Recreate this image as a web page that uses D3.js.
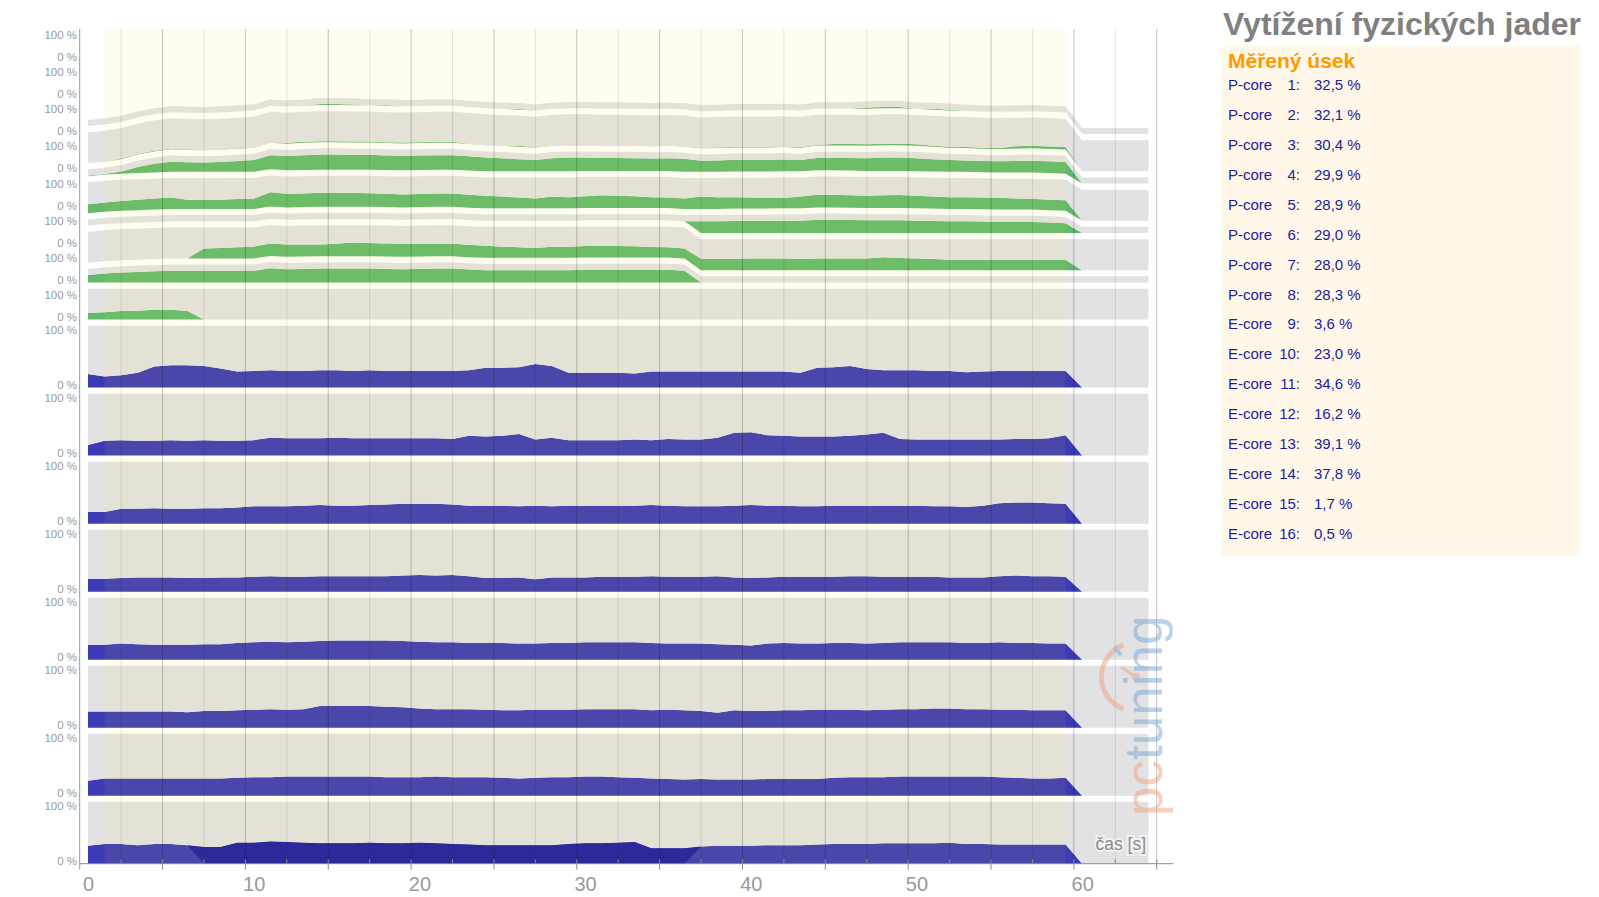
<!DOCTYPE html>
<html><head><meta charset="utf-8">
<script src="https://cdn.jsdelivr.net/npm/d3@7"></script>
<style>
body{margin:0;background:#fff;}
svg{display:block;font-family:"Liberation Sans",Arial,sans-serif;}
</style>
</head><body>
<svg id="c" width="1599" height="897"></svg>
<script>
// ---------------- data (t = 0 .. 59 s, one sample per second) ----------------
const title = "Vytížení fyzických jader";
const legendHeader = "Měřený úsek";
const legendKinds  = ["P-core","P-core","P-core","P-core","P-core","P-core","P-core","P-core",
                      "E-core","E-core","E-core","E-core","E-core","E-core","E-core","E-core"];
const legendNums   = ["1","2","3","4","5","6","7","8","9","10","11","12","13","14","15","16"];
const legendValues = ["32,5 %","32,1 %","30,4 %","29,9 %","28,9 %","29,0 %","28,0 %","28,3 %",
                      "3,6 %","23,0 %","34,6 %","16,2 %","39,1 %","37,8 %","1,7 %","0,5 %"];
const xTickLabels = [0,10,20,30,40,50,60];
const axisTitle = "čas [s]";
const measuredFrom = 1, measuredTo = 59;        // highlighted "Měřený úsek"
const tailZeros = [0,0,0,0,0];                  // t = 60 .. 64 : idle

// green P-core bands, top to bottom (P1..P8)
const p1 = [0,0,0,0,0,0,0,0,0,0, 0,0,0,0,1.5,1.5,1.5,0,1,0, 0,0,0,0,0,0,1,0,0,0, 0,0,0,0,0,0,0,0,0,0, 0,0,0,0,0,0,0,2,2,2, 0,1.5,1.5,0,0,0,0,0,0,0];
const p2 = [0,0,1,1,1,1,0.5,0.5,0.5,0.5, 0.5,0.5,1.5,1.5,1.5,1.5,1.5,1.5,1.5,1.5, 1.5,1.5,1.5,0.5,0.5,0.5,1.5,0.5,0.5,0.5, 0.5,0.5,0.5,0.5,0.5,0.5,0.5,1,1,1, 1,1,1,1,1,2.5,2.5,2.5,2.5,2.5, 2.5,1.5,1.5,1.5,1.5,1.5,4,4,4,4];
const p3 = [1,1,3.5,10,14,16.5,15.5,15,16,17.5, 19,23,23,24,24.5,24.5,24,24,23.5,23.5, 23.5,23.5,23.5,23,22,21,19.5,18,21,22, 21.5,21,21,20.5,20,20.5,21,18,18.5,19, 19,19,19,18,20,20,20.5,20.5,21.5,21.5, 21,20,19,18.5,18,18,18.5,19,19,19];
const p4 = [14.5,15,16,17,18,18.5,15,15,15,16, 16.5,23,22,22,22.5,22.5,22.5,22,21.5,21, 21,21.5,21.5,21,20.5,19,17.5,16,19,18, 19,20.5,20,19,17.5,17,17,20,19,18.5, 18,17,16.5,19,20.5,20.5,20,20,20.5,21, 20.5,19.5,19,19,19,19,18,17.5,17,17];
const p5 = [0,0,0,0,0,0,0,0,0,0, 0,0,0,0,0,0,0,0,0,0, 0,0,0,0,0,0,0,0,0,0, 0,0,0,0,0,0,0,19,19,19.5, 19.5,19.5,20,20,21.5,21.5,21,20.5,20.5,20.5, 20,19.5,19,19,18.5,18,18,18,17,16];
const p6 = [0,0,0,0,0,0,0,16,17,18, 19,20,20,19.5,19,20,22,21.5,21,21, 20.5,20,20,20,19.5,18,17,16,18,18, 18.5,19,18.5,18,17,16.5,16,18.5,18.5,18.5, 19,19,19,18.5,19,19,19,19,21,19.5, 19,18,17,17,17,17,17,17,16.5,16.3];
const p7 = [12,14.5,16,17,18,19,19,19,19,19, 19,23,21.5,22,22.5,22.5,22.5,22.5,22,21.5, 22,22.5,22.5,21,20,20,20,20,20,20, 20.5,20.5,20.5,20.5,20.5,20.5,19,0,0,0, 0,0,0,0,0,0,0,0,0,0, 0,0,0,0,0,0,0,0,0,0];
const p8 = [11,12,14,14.5,16,16,14,0,0,0, 0,0,0,0,0,0,0,0,0,0, 0,0,0,0,0,0,0,0,0,0, 0,0,0,0,0,0,0,0,0,0, 0,0,0,0,0,0,0,0,0,0, 0,0,0,0,0,0,0,0,0,0];
const pBandKind = ["short","tall","short","tall","short","tall","short","tall"];

// blue E-core panels, top to bottom
const e9  = [22,18,20,24,34,36,36,35,31,26, 27,28,27,27,28,28,27,28,27,27, 27,27,27,28,32,32,33,38,35,24, 24,24,24,23,26,26,26,26,26,26, 26,26,26,24,32,33,35,30,28,28, 28,27,27,25,26,27,27,27,27,27];
const e10 = [17,24,25,24,24,25,24,25,24,24, 25,29,28,28,28,29,28,28,28,28, 28,28,27,32,31,32,35,26,29,25, 25,25,25,26,25,27,26,26,29,37, 38,33,32,31,31,31,32,34,37,27, 26,26,26,26,26,26,27,27,28,33];
const e11 = [19,19,24,24,25,24,24,25,25,26, 28,28,28,29,30,29,29,30,31,32, 32,32,31,29,29,29,28,29,28,29, 29,29,29,29,30,29,28,28,28,29, 30,29,29,28,28,29,29,29,29,29, 29,28,28,27,29,33,34,34,33,32];
const e12 = [21,21,22,23,23,23,22,22,23,23, 24,25,24,24,25,25,25,25,25,26, 27,26,27,25,22,22,23,20,23,23, 23,24,24,24,25,24,24,24,25,23, 22,23,24,24,24,24,25,25,24,24, 24,24,23,23,23,25,26,25,25,24];
const e13 = [24,24,26,25,24,24,24,25,25,27, 28,29,28,29,30,31,31,31,31,30, 29,28,28,27,27,27,26,26,27,27, 28,28,28,28,27,26,26,26,25,24, 23,26,27,26,26,27,27,26,27,28, 28,28,28,27,27,28,27,27,26,26];
const e14 = [26,26,26,26,26,26,25,27,27,28, 29,30,29,30,35,35,35,35,34,33, 31,30,30,30,29,28,28,29,29,29, 30,30,30,30,28,29,28,27,24,28, 27,27,28,28,29,29,29,28,29,30, 30,31,31,30,30,29,29,28,28,28];
const e15 = [24,28,28,28,28,28,28,28,28,29, 30,30,31,31,31,31,31,31,30,30, 30,31,30,30,30,29,28,29,30,30, 31,31,30,29,28,27,26,27,26,26, 26,27,27,27,27,29,30,30,30,31, 31,31,31,31,31,30,29,28,28,29];
const e16 = [29,32,32,30,32,32,30,27,27,34, 34,36,35,34,33,33,33,34,33,33, 34,33,32,31,30,30,30,30,30,32, 33,33,34,35,25,25,25,28,29,29, 29,30,30,30,31,32,32,32,33,33, 33,33,34,32,32,31,31,31,31,31];
const e16ShadeFrom = 7, e16ShadeTo = 36;        // darker stretch in the last panel

// ---------------- layout constants ----------------
const PANEL = 100, GAP = 10, TALL = 50, SHORT = 10;
const plotTop = 29, plotBottom = 863.7;
const colors = {blue:"#3c3ab4", dark:"#1d1ba3", green:"#62b96b", gray:"#e2e2e4",
                cream:"rgb(255,225,60)", label:"#999", axis:"#8c8c8c"};

const pSeries = [p1,p2,p3,p4,p5,p6,p7,p8].map(s => s.concat(tailZeros));
const eSeries = [e9,e10,e11,e12,e13,e14,e15,e16].map(s => s.concat(tailZeros));
const seconds = d3.range(pSeries[0].length);

const svg = d3.select("#c");
const x = d3.scaleLinear().domain([-0.5, 65.5]).range([79.7, 1173.3]);
const y = d3.scaleLinear().domain([0, 1350]).range([plotBottom, plotTop]);

// ---------------- one stack: E16 at bottom ... P1 on top ----------------
const keys = [];
for (let i = eSeries.length - 1; i >= 0; i--) keys.push(`e${i}v`, `e${i}r`, `e${i}g`);
for (let i = pSeries.length - 1; i >= 0; i--) { keys.push(`p${i}v`, `p${i}r`); if (i > 0) keys.push(`p${i}g`); }

const rows = seconds.map(ti => {
  const r = {t: ti};
  eSeries.forEach((s, i) => { r[`e${i}v`] = s[ti]; r[`e${i}r`] = PANEL - s[ti]; r[`e${i}g`] = GAP; });
  pSeries.forEach((s, i) => {
    r[`p${i}v`] = s[ti];
    r[`p${i}r`] = pBandKind[i] === "tall" ? TALL - s[ti] : SHORT;
    r[`p${i}g`] = GAP;
  });
  return r;
});
const layers = d3.stack().keys(keys)(rows);
const area = d3.area().x(d => x(d.data.t)).y0(d => y(d[0])).y1(d => y(d[1]));

const gAreas = svg.append("g");
layers.forEach(L => {
  const k = L.key, kind = k.slice(-1);
  if (kind === "g") return;
  const fill = kind === "r" ? colors.gray : (k[0] === "e" ? colors.blue : colors.green);
  gAreas.append("path").datum(L).attr("d", area).attr("fill", fill);
});

// darker stretch of the bottom panel
const e16Idx = eSeries.length - 1;
const lastLayer = layers.find(L => L.key === `e${e16Idx}v`);
const shadeArea = d3.area()
  .defined(d => d.data.t >= e16ShadeFrom - 1 && d.data.t <= e16ShadeTo + 1)
  .x(d => x(d.data.t))
  .y0(d => (d.data.t >= e16ShadeFrom && d.data.t <= e16ShadeTo) ? y(d[0]) : y(d[1]))
  .y1(d => y(d[1]));
gAreas.append("path").datum(lastLayer).attr("d", shadeArea).attr("fill", colors.dark);

// ---------------- grid ----------------
const gridVals = d3.range(-0.5, 65, 2.5);
const gGrid = svg.append("g");
gridVals.forEach((v, i) => {
  if (i === 0) return;
  gGrid.append("line").attr("x1", x(v)).attr("x2", x(v)).attr("y1", plotTop).attr("y2", plotBottom)
    .attr("stroke", i % 2 === 0 ? "rgba(0,0,0,0.24)" : "rgba(0,0,0,0.10)").attr("stroke-width", 1);
});

// measured section overlay
svg.append("rect").attr("x", x(measuredFrom)).attr("y", plotTop)
  .attr("width", x(measuredTo) - x(measuredFrom)).attr("height", plotBottom - plotTop)
  .attr("fill", colors.cream).attr("opacity", 0.075);

// ---------------- axes ----------------
svg.append("line").attr("x1", x(-0.5)).attr("x2", x(-0.5)).attr("y1", plotTop).attr("y2", plotBottom + 6)
  .attr("stroke", "#9a9a9a");
svg.append("line").attr("x1", x(-0.5)).attr("x2", x(65.5)).attr("y1", plotBottom).attr("y2", plotBottom)
  .attr("stroke", colors.axis);
gridVals.forEach((v, i) => {
  if (i === 0) return;
  const major = i % 2 === 0;
  svg.append("line").attr("x1", x(v)).attr("x2", x(v))
    .attr("y1", plotBottom - 4.5).attr("y2", major ? plotBottom + 6 : plotBottom)
    .attr("stroke", colors.axis);
});
const gx = svg.append("g").attr("transform", `translate(0,${plotBottom})`)
  .call(d3.axisBottom(x).tickValues(xTickLabels).tickSize(0).tickFormat(d3.format("d")));
gx.select(".domain").remove();
gx.attr("font-family", "Liberation Sans, Arial, sans-serif").attr("font-size", 20);
gx.selectAll("text").attr("y", 27).attr("dy", null).attr("fill", "#999");

svg.append("text").attr("x", 1146).attr("y", 850).attr("text-anchor", "end")
  .attr("font-size", 17.5).attr("fill", "#8a8a8a")
  .attr("stroke", "#fff").attr("stroke-opacity", 0.55).attr("stroke-width", 4)
  .attr("paint-order", "stroke").text(axisTitle);

// y labels : 8 thin P panels + 8 E panels
const pLabelBand = d3.scaleBand().domain(d3.range(8)).range([30.7, 319.6]).paddingInner(0.234);
const gy = svg.append("g").attr("font-size", 11.5).attr("fill", colors.label).attr("text-anchor", "end");
d3.range(8).forEach(i => {
  gy.append("text").attr("x", 77).attr("y", pLabelBand(i) + 4).attr("dy", "0.35em").text("100 %");
  gy.append("text").attr("x", 77).attr("y", pLabelBand(i) + pLabelBand.bandwidth() - 2.5).attr("dy", "0.35em").text("0 %");
});
eSeries.forEach((s, i) => {
  const base = (eSeries.length - 1 - i) * (PANEL + GAP);
  gy.append("text").attr("x", 77).attr("y", y(base + PANEL) + 4).attr("dy", "0.35em").text("100 %");
  gy.append("text").attr("x", 77).attr("y", y(base) - 2.5).attr("dy", "0.35em").text("0 %");
});

// ---------------- watermark ----------------
const wm = svg.append("g").attr("opacity", 0.5);
wm.append("path").attr("transform", "translate(1136,677)")
  .attr("d", d3.arc().innerRadius(32).outerRadius(37).startAngle(Math.PI * 1.12).endAngle(Math.PI * 1.88)())
  .attr("fill", "#f2a07e");
wm.append("line").attr("x1", 1136).attr("y1", 677).attr("x2", 1121).attr("y2", 667)
  .attr("stroke", "#f2a07e").attr("stroke-width", 3);
wm.append("circle").attr("cx", 1136).attr("cy", 677).attr("r", 4).attr("fill", "#f2a07e");
wm.append("line").attr("x1", 1114).attr("y1", 647).attr("x2", 1121).attr("y2", 655)
  .attr("stroke", "#7aa6d6").attr("stroke-width", 4);
const wmText = wm.append("text").attr("transform", "translate(1162,816) rotate(-90)")
  .attr("font-size", 53).attr("font-family", "Liberation Sans, Arial, sans-serif");
wmText.append("tspan").attr("fill", "#f2a07e").text("pc");
wmText.append("tspan").attr("fill", "#7aa6d6").text("tuning");

// ---------------- title & legend ----------------
svg.append("text").attr("x", 1581).attr("y", 35).attr("text-anchor", "end")
  .attr("font-size", 32).attr("font-weight", "bold").attr("fill", "#808080").text(title);
svg.append("rect").attr("x", 1221.7).attr("y", 45.9).attr("width", 358).attr("height", 510)
  .attr("fill", "#fff8e8");
svg.append("text").attr("x", 1228).attr("y", 68.3).attr("font-size", 21).attr("font-weight", "bold")
  .attr("fill", "#ff9900").text(legendHeader);
const rowY = d3.scalePoint().domain(d3.range(legendNums.length)).range([85, 533.4]);
const gl = svg.append("g").attr("font-size", 15).attr("fill", "#1c1c9e");
legendNums.forEach((n, i) => {
  gl.append("text").attr("x", 1228).attr("y", rowY(i)).attr("dy", "0.35em").text(legendKinds[i]);
  gl.append("text").attr("x", 1300).attr("y", rowY(i)).attr("dy", "0.35em").attr("text-anchor", "end").text(n + ":");
  gl.append("text").attr("x", 1314).attr("y", rowY(i)).attr("dy", "0.35em").text(legendValues[i]);
});
</script>
</body></html>
